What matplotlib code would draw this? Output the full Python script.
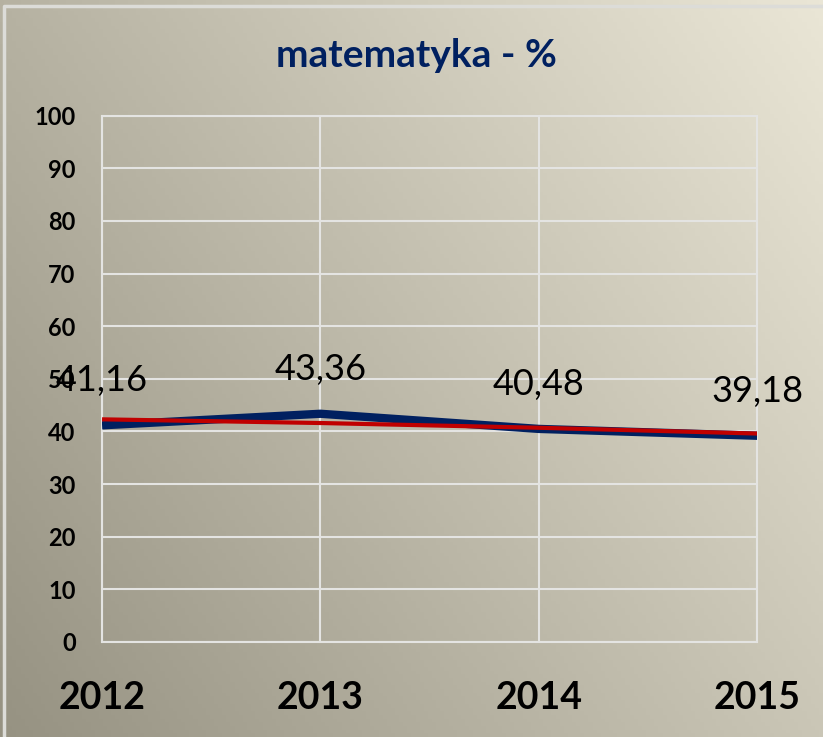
import numpy as np
import matplotlib.pyplot as plt

years = ['2012', '2013', '2014', '2015']
school = [41.16, 43.36, 40.48, 39.18]
ref = [42.3, 41.6, 40.7, 39.6]
labels = ['41,16', '43,36', '40,48', '39,18']

fig = plt.figure(figsize=(8.23, 7.37), dpi=100)

# gradient background
bg = fig.add_axes([0, 0, 1, 1], zorder=-10)
xx, yy = np.meshgrid(np.linspace(0, 1, 200), np.linspace(0, 1, 200))
t = 0.62 * xx + 0.38 * yy
c0 = np.array([0x96, 0x92, 0x82]) / 255
c1 = np.array([0xea, 0xe6, 0xd6]) / 255
img = c0[None, None, :] * (1 - t[..., None]) + c1[None, None, :] * t[..., None]
bg.imshow(img, origin='lower', extent=[0, 1, 0, 1], aspect='auto')
bg.plot([0.005, 0.005, 1], [0, 0.992, 0.992], color='#dcdcd8', lw=2.5)
bg.set_xlim(0, 1)
bg.set_ylim(0, 1)
bg.axis('off')

ax = fig.add_axes([0.124, 0.129, 0.796, 0.714])
ax.patch.set_alpha(0)
x = np.arange(len(years))
ax.plot(x, school, color='#002060', lw=6, solid_capstyle='butt', zorder=3)
ax.plot(x, ref, color='#c00000', lw=3, solid_capstyle='butt', zorder=4)
for xi, v, s in zip(x, school, labels):
    ax.annotate(s, (xi, v), xytext=(0, 32), textcoords='offset points',
                ha='center', va='center', fontsize=26, family='Lato', color='black')

ax.set_xlim(0, 3)
ax.set_ylim(0, 100)
ax.set_yticks(range(0, 101, 10))
ax.set_xticks(x)
ax.set_xticklabels(years)
ax.grid(True, color='#e4e4e2', lw=1.5)
ax.set_axisbelow(True)
for sp in ax.spines.values():
    sp.set_color('#e4e4e2')
    sp.set_linewidth(1.5)
ax.tick_params(length=0)
ax.tick_params(axis='y', pad=19)
ax.tick_params(axis='x', pad=28)
for lb in ax.get_yticklabels():
    lb.set_fontsize(17)
    lb.set_fontweight('bold')
    lb.set_family('Lato')
for lb in ax.get_xticklabels():
    lb.set_fontsize(27)
    lb.set_fontweight('bold')
    lb.set_family('Lato')

fig.text(0.506, 0.925, 'matematyka - %', ha='center', va='center',
         fontsize=28, fontweight='bold', family='Lato', color='#002060')

fig.savefig('out.png', dpi=100)
